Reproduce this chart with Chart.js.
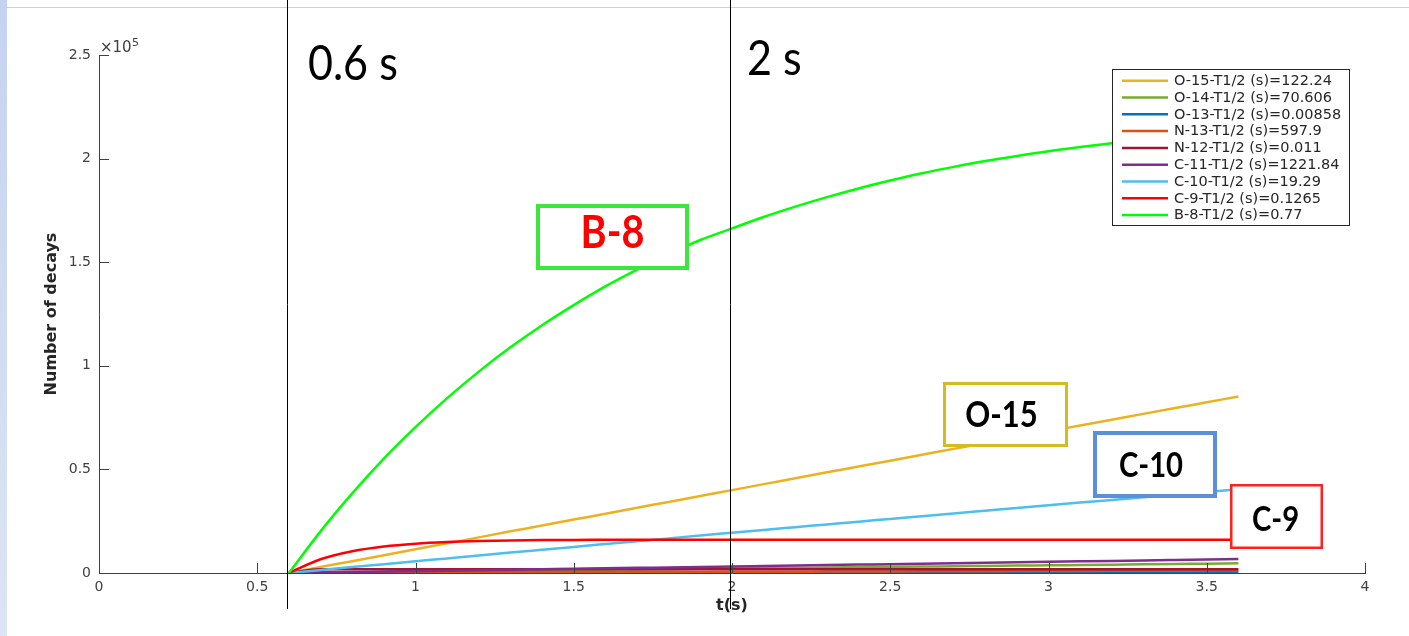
<!DOCTYPE html>
<html>
<head>
<meta charset="utf-8">
<script src="https://cdn.jsdelivr.net/npm/chart.js@4.4.0/dist/chart.umd.min.js"></script>
<style>
  html, body { margin: 0; padding: 0; background: #fff; }
</style>
</head>
<body>
<canvas id="myChart" width="1409" height="636"></canvas>
<script>
// sample times (s), counting starts at 0.6 s
const times = [0.6, 0.7, 0.8, 0.9, 1.0, 1.1, 1.2, 1.3, 1.4, 1.5, 1.6, 1.7, 1.8, 1.9, 2.0,
  2.1, 2.2, 2.3, 2.4, 2.5, 2.6, 2.7, 2.8, 2.9, 3.0, 3.1, 3.2, 3.3, 3.4, 3.5, 3.6];

// series names, same order as the legend
const names = ["O-15-T1/2 (s)=122.24", "O-14-T1/2 (s)=70.606", "O-13-T1/2 (s)=0.00858",
  "N-13-T1/2 (s)=597.9", "N-12-T1/2 (s)=0.011", "C-11-T1/2 (s)=1221.84",
  "C-10-T1/2 (s)=19.29", "C-9-T1/2 (s)=0.1265", "B-8-T1/2 (s)=0.77"];
const colors = ["#EDB120", "#77AC30", "#0072BD", "#D95319", "#A2142F", "#7E2F8E",
  "#4DBEEE", "#FF0000", "#00FF00"];

// number of decays
const o15 = [0, 2900, 5700, 8600, 11500, 14300, 17200, 20100, 22900, 25800, 28600, 31500, 34300, 37200, 40000,
  42900, 45700, 48600, 51400, 54200, 57100, 59900, 62700, 65600, 68400, 71200, 74000, 76800, 79600, 82400, 85200];
const o14 = [0, 160, 310, 470, 620, 780, 930, 1090, 1240, 1400, 1550, 1710, 1860, 2020, 2170,
  2330, 2480, 2640, 2790, 2950, 3100, 3260, 3410, 3570, 3720, 3880, 4030, 4190, 4340, 4500, 4650];
const o13 = [0, 320, 320, 320, 320, 320, 320, 320, 320, 320, 320, 320, 320, 320, 320,
  320, 320, 320, 320, 320, 320, 320, 320, 320, 320, 320, 320, 320, 320, 320, 320];
const n13 = [0, 40, 80, 120, 160, 200, 240, 280, 320, 360, 400, 440, 480, 520, 560,
  600, 640, 680, 720, 760, 800, 840, 880, 920, 960, 1000, 1040, 1080, 1120, 1160, 1200];
const n12 = [0, 1750, 1750, 1750, 1750, 1750, 1750, 1750, 1750, 1750, 1750, 1750, 1750, 1750, 1750,
  1750, 1750, 1750, 1750, 1750, 1750, 1750, 1750, 1750, 1750, 1750, 1750, 1750, 1750, 1750, 1750];
const c11 = [0, 230, 450, 680, 900, 1130, 1350, 1580, 1800, 2030, 2250, 2480, 2700, 2930, 3150,
  3380, 3600, 3830, 4050, 4280, 4500, 4730, 4950, 5180, 5400, 5630, 5850, 6080, 6300, 6530, 6750];
const c10 = [0, 1420, 2840, 4250, 5650, 7050, 8450, 9840, 11220, 12600, 13970, 15340, 16710, 18070, 19420,
  20770, 22110, 23450, 24790, 26110, 27440, 28760, 30070, 31380, 32680, 33980, 35270, 36560, 37840, 39120, 40390];
const c9 = [0, 6620, 10520, 12820, 14170, 14960, 15430, 15710, 15870, 15960, 16020, 16050, 16070, 16080, 16090,
  16090, 16090, 16100, 16100, 16100, 16100, 16100, 16100, 16100, 16100, 16100, 16100, 16100, 16100, 16100, 16100];
const b8 = [0, 20100, 38400, 55200, 70400, 84400, 97200, 108900, 119600, 129300, 138300, 146400, 153900, 160700, 166300,
  171800, 176800, 181400, 185600, 189400, 192900, 196000, 198800, 201300, 203600, 205600, 207400, 209000, 210400, 211700, 212800];
const series = [o15, o14, o13, n13, n12, c11, c10, c9, b8];

// axis ticks
const xTicks = [0, 0.5, 1, 1.5, 2, 2.5, 3, 3.5, 4];
const yTicks = [0, 50000, 100000, 150000, 200000, 250000];

// hand-drawn marks on the slide
const markTimes = [0.6, 2];
const markTexts = ["0.6 s", "2 s"];
const callouts = [
  { text: "B-8", box: [536, 204, 689, 270], lw: 4, stroke: "#3ce63c", color: "#ff0000", size: 46, base: 248, dx: 0 },
  { text: "O-15", box: [943, 382, 1068, 447], lw: 3, stroke: "#d6bb1f", color: "#000", size: 36, base: 427, dx: -4 },
  { text: "C-10", box: [1093, 431, 1217, 498], lw: 4, stroke: "#5b8fd7", color: "#000", size: 34, base: 477, dx: -4 },
  { text: "C-9", box: [1230, 484, 1323, 549], lw: 2.5, stroke: "#ff2020", color: "#000", size: 34, base: 531, dx: -1 },
];

const axisGrey = "#404040";
const textDark = "#262626";

const decor = {
  id: "decor",
  beforeDraw(chart) {
    const { ctx, width, height } = chart;
    ctx.save();
    ctx.fillStyle = "#fff";
    ctx.fillRect(0, 0, width, height);
    const g = ctx.createLinearGradient(0, 0, 0, height);
    g.addColorStop(0, "#c4d3ef");
    g.addColorStop(1, "#dce5f5");
    ctx.fillStyle = g;
    ctx.fillRect(0, 0, 7, height);
    ctx.fillStyle = "#c9d1e7";
    ctx.fillRect(7, 7, width - 7, 1);
    ctx.restore();
  },
  afterDraw(chart) {
    const { ctx } = chart;
    const xs = chart.scales.x, ys = chart.scales.y;
    ctx.save();

    // inward tick marks
    ctx.strokeStyle = axisGrey;
    ctx.lineWidth = 1;
    ctx.beginPath();
    xs.ticks.forEach((t) => {
      const px = Math.round(xs.getPixelForValue(t.value)) + 0.5;
      ctx.moveTo(px, ys.bottom);
      ctx.lineTo(px, ys.bottom - 10);
    });
    ys.ticks.forEach((t) => {
      const py = Math.round(ys.getPixelForValue(t.value)) + 0.5;
      ctx.moveTo(xs.left, py);
      ctx.lineTo(xs.left + 10, py);
    });
    ctx.stroke();

    // x10^5 exponent
    ctx.fillStyle = axisGrey;
    ctx.font = "15px 'DejaVu Sans'";
    ctx.textAlign = "left";
    ctx.textBaseline = "alphabetic";
    ctx.fillText("\u00d710", 100, 52);
    ctx.font = "11px 'DejaVu Sans'";
    ctx.fillText("5", 132, 46);

    // vertical time markers
    ctx.strokeStyle = "#000";
    ctx.beginPath();
    markTimes.forEach((t) => {
      const px = Math.round(xs.getPixelForValue(t)) - 2 + 0.5;
      ctx.moveTo(px, 0);
      ctx.lineTo(px, 609);
    });
    ctx.stroke();
    ctx.fillStyle = "#000";
    ctx.font = "49px Lato";
    markTexts.forEach((s, i) => {
      const px = xs.getPixelForValue(markTimes[i]);
      ctx.save();
      ctx.translate(px + (i ? 15 : 19), i ? 75 : 80);
      ctx.scale(0.88, 1);
      ctx.fillText(s, 0, 0);
      ctx.restore();
    });

    // callout boxes
    callouts.forEach((c) => {
      const [x0, y0, x1, y1] = c.box;
      const h = c.lw / 2;
      ctx.fillStyle = "#fff";
      ctx.fillRect(x0, y0, x1 - x0, y1 - y0);
      ctx.strokeStyle = c.stroke;
      ctx.lineWidth = c.lw;
      ctx.strokeRect(x0 + h, y0 + h, x1 - x0 - c.lw, y1 - y0 - c.lw);
      ctx.save();
      ctx.translate((x0 + x1) / 2 + c.dx, c.base);
      ctx.scale(0.86, 1);
      ctx.fillStyle = c.color;
      ctx.font = "bold " + c.size + "px Lato";
      ctx.textAlign = "center";
      ctx.fillText(c.text, 0, 0);
      ctx.restore();
    });

    // legend
    const lx = 1112, ly = 69, lw = 237, lh = 156;
    ctx.fillStyle = "#fff";
    ctx.fillRect(lx, ly, lw, lh);
    ctx.strokeStyle = textDark;
    ctx.lineWidth = 1;
    ctx.strokeRect(lx + 0.5, ly + 0.5, lw, lh);
    ctx.font = "14.5px 'DejaVu Sans'";
    ctx.textAlign = "left";
    ctx.textBaseline = "middle";
    names.forEach((n, i) => {
      const cy = 80.7 + i * 16.8;
      ctx.strokeStyle = colors[i];
      ctx.lineWidth = 2.5;
      ctx.beginPath();
      ctx.moveTo(1122, cy);
      ctx.lineTo(1168, cy);
      ctx.stroke();
      ctx.fillStyle = textDark;
      ctx.fillText(n, 1174, cy + 0.5);
    });
    ctx.restore();
  },
};

const datasets = names.map((n, i) => ({
  label: n,
  data: times.map((t, k) => ({ x: t, y: series[i][k] })),
  borderColor: colors[i],
  backgroundColor: colors[i],
  borderWidth: 2.5,
  pointRadius: 0,
  cubicInterpolationMode: "monotone",
  order: names.length - i,
}));

const ctx = document.getElementById("myChart");
const myChart = new Chart(ctx, {
  type: "line",
  data: { datasets },
  plugins: [decor],
  options: {
    responsive: false,
    animation: false,
    layout: { padding: { left: 0, top: 55, right: 44, bottom: 0 } },
    plugins: { legend: { display: false }, tooltip: { enabled: false } },
    scales: {
      x: {
        type: "linear",
        min: 0,
        max: 4,
        afterBuildTicks: (s) => { s.ticks = xTicks.map((v) => ({ value: v })); },
        afterFit: (s) => { s.height = 63; },
        grid: { display: false, drawTicks: false },
        border: { display: true, color: axisGrey, width: 1 },
        ticks: {
          padding: 6,
          color: axisGrey,
          font: { family: "DejaVu Sans", size: 14 },
          maxRotation: 0,
          callback: (v) => String(v),
        },
        title: {
          display: true,
          text: "t(s)",
          color: textDark,
          font: { family: "DejaVu Sans", size: 16, weight: "bold" },
          padding: { top: 0, bottom: 21 },
        },
      },
      y: {
        type: "linear",
        min: 0,
        max: 250000,
        afterBuildTicks: (s) => { s.ticks = yTicks.map((v) => ({ value: v })); },
        afterFit: (s) => { s.width = 99; },
        grid: { display: false, drawTicks: false },
        border: { display: true, color: axisGrey, width: 1 },
        ticks: {
          padding: 8,
          color: axisGrey,
          font: { family: "DejaVu Sans", size: 14 },
          callback: (v) => String(v / 100000),
        },
        title: {
          display: true,
          text: "Number of decays",
          color: textDark,
          font: { family: "DejaVu Sans", size: 16, weight: "bold" },
          padding: { top: 42, bottom: 0 },
        },
      },
    },
  },
});
</script>
</body>
</html>
